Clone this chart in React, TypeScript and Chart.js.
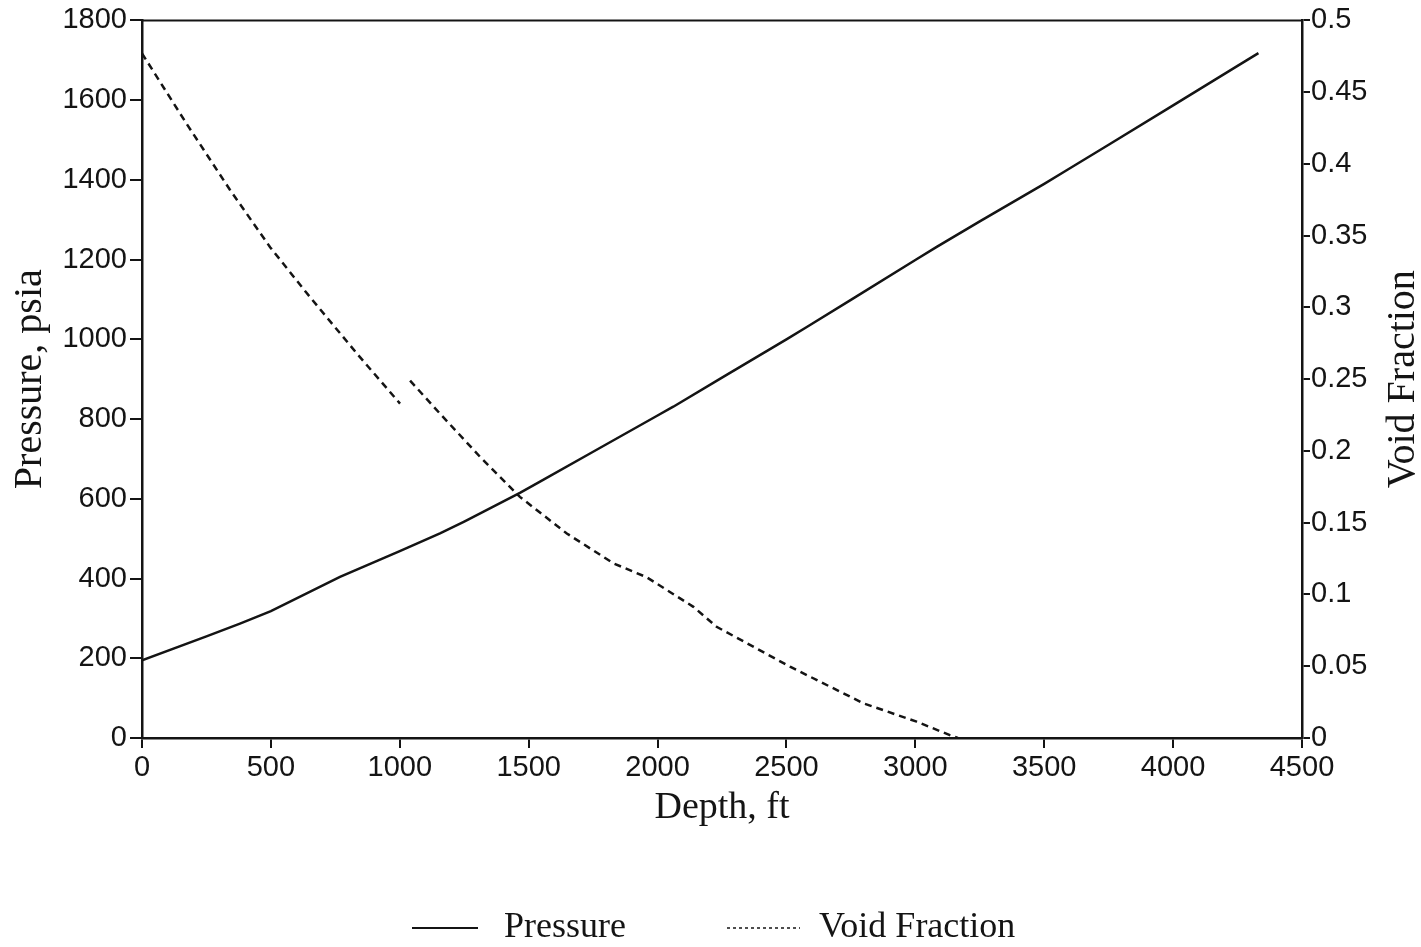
import React, { useEffect, useRef } from "react";
import { Chart, registerables } from "chart.js";

Chart.register(...registerables);

// Depth (ft) and pressure (psia)
const pressureDepth = [0, 250, 380, 500, 768, 1000, 1156, 1250, 1466, 1544, 1750, 2000, 2061, 2250, 2500, 2579, 2750, 3000, 3083, 3250, 3500, 3587, 3750, 4000, 4250, 4331];
const pressureValues = [195, 255, 287, 318, 404, 469, 513, 543, 615, 643, 718, 809, 831, 904, 1000, 1031, 1099, 1199, 1232, 1296, 1390, 1424, 1488, 1587, 1686, 1718];

// Depth (ft) and void fraction; null marks the break near 1020 ft
const voidDepth = [0, 173, 341, 497, 639, 833, 1001, 1020, 1040, 1156, 1311, 1466, 1648, 1829, 1958, 2139, 2229, 2514, 2798, 3005, 3134, 3165];
const voidValues = [0.477, 0.428, 0.382, 0.342, 0.310, 0.268, 0.233, null, 0.249, 0.226, 0.196, 0.168, 0.1425, 0.1217, 0.112, 0.0914, 0.0775, 0.0497, 0.0242, 0.0114, 0.002, 0];

const xTicks = { min: 0, max: 4500, step: 500 };
const leftTicks = { min: 0, max: 1800, step: 200 };
const rightTicks = { min: 0, max: 0.5, step: 0.05 };

const legendLabels = ["Pressure", "Void Fraction"];
const axisTitles = { x: "Depth, ft", left: "Pressure, psia", right: "Void Fraction" };

const INK = "#141414";
const SANS = "'Liberation Sans', Arial, sans-serif";
const SERIF = "'Liberation Serif', 'Times New Roman', serif";
const plain = (v: any) => String(Number(Number(v).toFixed(2)));

export default function App() {
  const ref = useRef<HTMLCanvasElement | null>(null);

  useEffect(() => {
    if (!ref.current) return;
    document.body.style.margin = "0";

    const extras = {
      id: "extras",
      afterDraw(chart: any) {
        const { ctx, chartArea } = chart;
        ctx.save();
        // top frame line
        ctx.strokeStyle = INK;
        ctx.lineWidth = 2;
        ctx.beginPath();
        ctx.moveTo(chartArea.left, chartArea.top);
        ctx.lineTo(chartArea.right, chartArea.top);
        ctx.stroke();

        // right axis title, reading bottom to top
        ctx.fillStyle = INK;
        ctx.font = `40px ${SERIF}`;
        ctx.textAlign = "center";
        ctx.textBaseline = "middle";
        ctx.translate(1403, (chartArea.top + chartArea.bottom) / 2);
        ctx.rotate(-Math.PI / 2);
        ctx.fillText(axisTitles.right, 0, 0);
        ctx.restore();

        // legend
        ctx.save();
        ctx.strokeStyle = INK;
        ctx.fillStyle = INK;
        ctx.font = `36px ${SERIF}`;
        ctx.textBaseline = "middle";
        ctx.textAlign = "left";
        const ly = 928;
        ctx.lineWidth = 2;
        ctx.beginPath();
        ctx.moveTo(412, ly);
        ctx.lineTo(478, ly);
        ctx.stroke();
        ctx.fillText(legendLabels[0], 504, ly);
        ctx.lineWidth = 1.5;
        ctx.setLineDash([3, 3]);
        ctx.beginPath();
        ctx.moveTo(727, ly);
        ctx.lineTo(800, ly);
        ctx.stroke();
        ctx.setLineDash([]);
        ctx.fillText(legendLabels[1], 819, ly);
        ctx.restore();
      },
    };

    const chart = new Chart(ref.current, {
      type: "line",
      data: {
        datasets: [
          {
            label: legendLabels[0],
            data: pressureDepth.map((d, i) => ({ x: d, y: pressureValues[i] })),
            yAxisID: "y",
            borderColor: INK,
            borderWidth: 2.5,
            pointRadius: 0,
            tension: 0,
          },
          {
            label: legendLabels[1],
            data: voidDepth.map((d, i) => ({ x: d, y: voidValues[i] as any })),
            yAxisID: "y1",
            borderColor: INK,
            borderWidth: 2.5,
            borderDash: [7, 5],
            pointRadius: 0,
            tension: 0,
            spanGaps: false,
          },
        ],
      },
      options: {
        responsive: false,
        animation: false,
        layout: { padding: { top: 20, left: 0, right: 0, bottom: 0 } },
        plugins: { legend: { display: false }, tooltip: { enabled: false } },
        scales: {
          x: {
            type: "linear",
            min: xTicks.min,
            max: xTicks.max,
            afterFit: (s: any) => { s.height = 947 - 738; },
            ticks: { stepSize: xTicks.step, color: INK, font: { family: SANS, size: 29 }, padding: 3, maxRotation: 0, callback: plain },
            grid: { drawOnChartArea: false, drawTicks: true, tickLength: 10, color: INK, lineWidth: 2 },
            border: { display: true, color: INK, width: 2.5 },
            title: { display: true, text: axisTitles.x, color: INK, font: { family: SERIF, size: 38 }, padding: { top: 0, bottom: 116 } },
          },
          y: {
            position: "left",
            min: leftTicks.min,
            max: leftTicks.max,
            afterFit: (s: any) => { s.width = 142; },
            ticks: { stepSize: leftTicks.step, color: INK, font: { family: SANS, size: 29 }, padding: 3, callback: plain },
            grid: { drawOnChartArea: false, drawTicks: true, tickLength: 12, color: INK, lineWidth: 2 },
            border: { display: true, color: INK, width: 2.5 },
            title: { display: true, text: axisTitles.left, color: INK, font: { family: SERIF, size: 40 }, padding: { top: 6, bottom: 0 } },
          },
          y1: {
            position: "right",
            min: rightTicks.min,
            max: rightTicks.max,
            afterFit: (s: any) => { s.width = 1421 - 1302; },
            ticks: { stepSize: rightTicks.step, color: INK, font: { family: SANS, size: 29 }, padding: 1, callback: plain },
            grid: { drawOnChartArea: false, drawTicks: true, tickLength: 8, color: INK, lineWidth: 2 },
            border: { display: true, color: INK, width: 2.5 },
          },
        },
      } as any,
      plugins: [extras],
    });
    return () => chart.destroy();
  }, []);

  return (
    <div style={{ position: "absolute", left: 0, top: 0, width: 1421, height: 947, background: "#fff" }}>
      <canvas ref={ref} width={1421} height={947} style={{ width: 1421, height: 947 }} />
    </div>
  );
}
